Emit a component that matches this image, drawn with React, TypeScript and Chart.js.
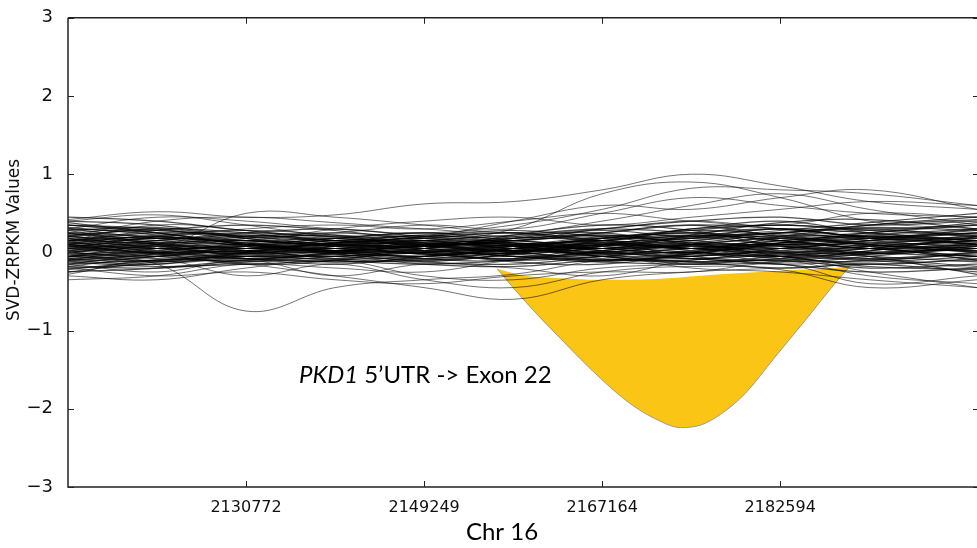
import React, { useEffect, useRef } from "react";
import { Chart, registerables } from "chart.js";

Chart.register(...registerables);

// Sample positions (index along the region) at which every trace is read
const knotX = [0, 10, 20, 30, 40, 50, 60, 70, 80, 90, 102.1];
const xTickPositions = [20, 40, 60, 80];
const xTickLabels = ["2130772", "2149249", "2167164", "2182594"];
const yTicks = [-3, -2, -1, 0, 1, 2, 3];

const denseBand: number[][] = [
  [0.10, 0.05, 0.00, 0.05, 0.08, 0.02, 0.10, 0.05, 0.12, 0.08, 0.05],
  [-0.05, 0.02, 0.08, 0.00, -0.05, 0.03, 0.00, 0.10, 0.05, -0.02, 0.10],
  [0.20, 0.15, 0.05, 0.10, 0.02, 0.08, 0.15, 0.20, 0.10, 0.15, 0.20],
  [-0.15, -0.10, -0.05, -0.08, 0.00, -0.10, -0.05, 0.00, -0.08, -0.12, -0.05],
  [0.05, 0.12, 0.10, 0.02, 0.10, 0.15, 0.05, 0.00, 0.15, 0.20, 0.10],
  [0.30, 0.25, 0.10, 0.05, 0.12, 0.10, 0.20, 0.25, 0.30, 0.20, 0.25],
  [-0.10, -0.02, 0.05, 0.10, 0.05, -0.05, -0.10, -0.05, 0.02, 0.05, -0.10],
  [0.15, 0.20, 0.15, 0.08, -0.02, 0.00, 0.08, 0.15, 0.20, 0.10, 0.00],
  [0.00, -0.08, -0.10, 0.00, 0.08, 0.12, 0.05, -0.02, -0.05, 0.05, 0.15],
  [0.25, 0.10, -0.05, -0.02, 0.05, 0.20, 0.25, 0.10, 0.05, 0.15, 0.30],
  [-0.20, -0.15, -0.08, -0.12, -0.10, -0.05, -0.12, -0.15, -0.10, -0.20, -0.15],
  [0.08, 0.00, 0.02, 0.12, 0.15, 0.05, -0.02, 0.05, 0.10, 0.00, -0.05],
  [0.35, 0.30, 0.15, 0.12, 0.20, 0.25, 0.15, 0.30, 0.35, 0.30, 0.35],
  [-0.05, 0.10, 0.15, 0.05, -0.08, -0.10, 0.02, 0.10, 0.00, -0.10, 0.00],
  [0.12, 0.08, -0.02, -0.05, 0.00, 0.10, 0.12, -0.05, -0.10, 0.02, 0.12],
  [0.02, 0.15, 0.20, 0.15, 0.10, -0.02, 0.10, 0.20, 0.25, 0.30, 0.20],
  [-0.25, -0.20, -0.10, -0.05, -0.15, -0.18, -0.10, -0.12, -0.20, -0.15, -0.25],
  [0.18, 0.05, 0.08, 0.18, 0.20, 0.15, 0.25, 0.35, 0.20, 0.10, 0.05],
  [0.05, -0.05, -0.12, -0.05, 0.02, 0.08, -0.05, -0.10, 0.05, 0.12, 0.08],
  [0.40, 0.35, 0.20, 0.15, 0.10, 0.15, 0.30, 0.40, 0.45, 0.35, 0.40],
  [-0.08, 0.00, 0.12, 0.18, 0.08, 0.02, 0.05, -0.05, 0.12, 0.20, 0.15],
  [0.10, 0.18, 0.12, -0.02, -0.10, -0.02, 0.15, 0.22, 0.15, 0.05, -0.05],
  [-0.12, -0.18, -0.15, -0.10, -0.05, 0.05, 0.00, -0.08, -0.15, -0.25, -0.20],
  [0.22, 0.28, 0.18, 0.08, 0.15, 0.05, 0.10, 0.05, 0.18, 0.25, 0.35],
  [0.00, 0.05, -0.02, 0.08, 0.20, 0.18, 0.22, 0.12, 0.08, -0.02, 0.05],
  [-0.18, -0.05, 0.02, -0.02, -0.12, -0.15, -0.05, 0.05, -0.02, -0.08, -0.18],
  [0.28, 0.12, 0.05, 0.12, 0.05, 0.22, 0.35, 0.28, 0.10, 0.18, 0.28],
  [0.06, 0.20, 0.25, 0.20, 0.12, 0.08, -0.05, 0.00, 0.20, 0.35, 0.45],
  [-0.02, -0.12, -0.05, 0.02, -0.02, -0.08, 0.08, 0.18, 0.30, 0.18, 0.10],
  [0.15, 0.00, -0.08, -0.15, -0.05, 0.05, 0.18, 0.12, -0.05, -0.15, -0.08],
  [0.32, 0.22, 0.08, 0.02, 0.08, 0.12, 0.05, 0.22, 0.38, 0.42, 0.30],
  [-0.10, -0.15, 0.00, 0.12, 0.22, 0.12, -0.02, -0.12, -0.08, 0.02, 0.20],
  [0.12, 0.22, 0.28, 0.22, 0.05, -0.05, 0.00, 0.08, 0.00, 0.08, 0.15],
  [0.00, 0.08, 0.15, 0.10, -0.02, 0.05, 0.18, 0.28, 0.22, 0.08, -0.10],
  [-0.22, -0.10, 0.00, 0.05, 0.00, -0.12, -0.15, -0.02, 0.08, -0.05, -0.28],
  [0.45, 0.40, 0.28, 0.20, 0.25, 0.20, 0.18, 0.30, 0.40, 0.25, 0.15],
  [0.10, -0.02, -0.15, -0.10, 0.05, 0.18, 0.28, 0.20, 0.28, 0.38, 0.50],
  [0.20, 0.12, 0.00, 0.02, 0.12, 0.02, -0.10, -0.02, 0.12, 0.22, 0.10],
  [-0.05, 0.05, 0.02, -0.08, -0.12, -0.02, 0.12, 0.02, -0.12, -0.05, 0.08],
  [0.15, 0.28, 0.35, 0.28, 0.15, 0.08, 0.12, 0.05, 0.05, 0.15, 0.25],
];

const denseBandExtra: number[][] = [
  [0.18, 0.10, 0.05, 0.12, 0.18, 0.10, 0.05, 0.12, 0.22, 0.18, 0.12],
  [-0.08, -0.12, -0.02, 0.05, -0.02, -0.08, 0.02, 0.08, 0.02, -0.05, -0.12],
  [0.25, 0.20, 0.12, 0.05, 0.00, 0.05, 0.12, 0.18, 0.25, 0.32, 0.28],
  [0.02, 0.08, 0.02, -0.05, 0.05, 0.15, 0.20, 0.15, 0.05, 0.10, 0.22],
  [-0.12, -0.05, 0.08, 0.12, 0.10, 0.00, -0.08, -0.12, -0.05, 0.05, 0.02],
  [0.30, 0.18, 0.10, 0.15, 0.22, 0.28, 0.20, 0.10, 0.15, 0.25, 0.38],
  [0.08, 0.15, 0.22, 0.15, 0.05, 0.02, 0.08, 0.20, 0.30, 0.25, 0.15],
  [-0.02, 0.00, -0.08, -0.12, -0.08, 0.00, 0.10, 0.05, -0.02, 0.00, 0.05],
  [0.14, 0.25, 0.20, 0.10, 0.08, 0.12, 0.02, -0.05, 0.05, 0.12, 0.18],
  [-0.18, -0.20, -0.12, -0.02, 0.05, -0.02, -0.10, -0.08, -0.15, -0.10, -0.02],
  [0.22, 0.05, -0.02, 0.05, 0.15, 0.22, 0.30, 0.25, 0.15, 0.05, 0.02],
  [0.05, 0.18, 0.12, 0.02, 0.00, 0.08, 0.15, 0.08, 0.12, 0.22, 0.30],
  [0.35, 0.28, 0.22, 0.18, 0.12, 0.18, 0.25, 0.35, 0.30, 0.20, 0.18],
  [-0.05, -0.10, 0.00, 0.10, 0.12, 0.05, -0.02, 0.02, 0.10, 0.05, -0.05],
  [0.12, 0.05, 0.10, 0.18, 0.25, 0.15, 0.08, 0.00, -0.05, -0.02, 0.08],
  [0.20, 0.30, 0.25, 0.12, 0.02, -0.02, 0.05, 0.12, 0.08, 0.00, 0.12],
  [-0.15, -0.02, 0.05, 0.00, -0.05, 0.02, -0.05, -0.15, -0.12, -0.02, 0.05],
  [0.00, -0.05, 0.05, 0.15, 0.18, 0.25, 0.15, 0.05, 0.12, 0.18, 0.10],
  [0.28, 0.32, 0.18, 0.08, 0.10, 0.05, 0.15, 0.28, 0.35, 0.28, 0.20],
  [0.10, 0.02, -0.05, 0.02, 0.10, 0.08, 0.00, 0.10, 0.18, 0.12, 0.02],
  [-0.25, -0.12, -0.05, -0.10, -0.15, -0.10, -0.02, 0.00, -0.05, -0.18, -0.22],
  [0.16, 0.12, 0.18, 0.22, 0.12, 0.02, 0.10, 0.22, 0.15, 0.05, 0.10],
  [0.04, 0.10, 0.05, 0.00, 0.02, -0.05, -0.12, -0.02, 0.10, 0.18, 0.25],
  [0.38, 0.25, 0.10, 0.02, 0.08, 0.15, 0.22, 0.18, 0.25, 0.35, 0.42],
  [-0.10, 0.05, 0.10, 0.02, -0.05, 0.05, 0.18, 0.25, 0.18, 0.10, 0.00],
  [0.08, -0.02, -0.08, 0.00, 0.08, 0.02, 0.12, 0.05, -0.05, -0.08, 0.00],
  [0.24, 0.18, 0.25, 0.30, 0.20, 0.12, 0.05, 0.10, 0.20, 0.28, 0.22],
  [-0.06, 0.00, 0.02, 0.08, 0.15, 0.10, 0.02, -0.08, -0.02, 0.08, 0.15],
  [0.12, 0.20, 0.10, 0.00, -0.08, 0.00, 0.05, 0.15, 0.25, 0.15, 0.05],
  [0.00, 0.12, 0.20, 0.25, 0.18, 0.10, 0.15, 0.05, 0.00, 0.05, 0.20],
];

const upperOutliers: number[][] = [
  [0.05, 0.05, 0.50, 0.45, 0.35, 0.25, 0.30, 0.40, 0.30, 0.20, 0.15],
  [0.42, 0.52, 0.45, 0.48, 0.62, 0.65, 0.80, 1.00, 0.85, 0.65, 0.55],
  [0.40, 0.48, 0.35, 0.20, 0.15, 0.30, 0.75, 0.90, 0.70, 0.40, 0.30],
  [0.30, 0.45, 0.40, 0.30, 0.25, 0.35, 0.55, 0.82, 0.80, 0.75, 0.60],
  [0.15, 0.35, 0.28, 0.15, 0.20, 0.40, 0.60, 0.55, 0.70, 0.80, 0.55],
  [0.25, 0.30, 0.20, 0.25, 0.35, 0.30, 0.50, 0.70, 0.60, 0.50, 0.45],
  [0.20, 0.40, 0.45, 0.38, 0.30, 0.25, 0.40, 0.60, 0.75, 0.55, 0.35],
  [0.35, 0.25, 0.15, 0.30, 0.40, 0.45, 0.35, 0.45, 0.55, 0.65, 0.60],
  [0.10, 0.20, 0.30, 0.35, 0.30, 0.40, 0.50, 0.40, 0.35, 0.50, 0.45],
];

const lowerOutliers: number[][] = [
  [-0.05, -0.15, -0.75, -0.45, -0.35, -0.28, -0.10, -0.05, 0.00, -0.10, -0.20],
  [-0.30, -0.35, -0.20, -0.10, -0.30, -0.35, -0.20, -0.15, -0.10, -0.30, -0.40],
  [-0.35, -0.30, -0.15, -0.20, -0.25, -0.10, -0.05, -0.20, -0.25, -0.35, -0.45],
  [-0.20, -0.30, -0.25, -0.35, -0.40, -0.30, -0.25, -0.25, -0.15, -0.40, -0.30],
  [-0.15, -0.25, -0.10, -0.30, -0.15, -0.20, -0.30, -0.10, -0.05, -0.25, -0.45],
  [-0.28, -0.10, -0.30, -0.15, -0.35, -0.45, -0.25, -0.18, -0.22, -0.45, -0.35],
  [-0.10, -0.05, -0.15, -0.30, -0.45, -0.60, -0.35, -0.25, -0.20, -0.15, -0.10],
];

// PKD1 5'UTR -> Exon 22 outlier envelope
const pkd1X = [48.2, 51.3, 55.3, 59.8, 63.1, 66.0, 68.8, 71.0, 73.3, 76.1, 79.4, 82.8, 86.2, 87.9];
const pkd1Upper = [-0.21, -0.30, -0.33, -0.35, -0.35, -0.34, -0.32, -0.30, -0.28, -0.26, -0.24, -0.22, -0.20, -0.17];
const pkd1Lower = [-0.21, -0.62, -1.10, -1.61, -1.93, -2.13, -2.24, -2.21, -2.07, -1.80, -1.34, -0.87, -0.39, -0.17];

const BAND_COLOR = "rgba(0,0,0,0.68)";
const OUTLIER_COLOR = "rgba(0,0,0,0.55)";
const YELLOW = "#FBC515";

const framePlugin = {
  id: "framePlugin",
  afterDraw(chart: any) {
    const { ctx, chartArea } = chart;
    const { left, right, top, bottom } = chartArea;
    const xs = chart.scales.x;
    const ys = chart.scales.y;
    ctx.save();
    ctx.strokeStyle = "#222";
    ctx.lineWidth = 1.5;
    ctx.beginPath();
    ctx.moveTo(left, top);
    ctx.lineTo(right + 2, top);
    ctx.moveTo(left, top);
    ctx.lineTo(left, bottom);
    ctx.lineTo(right + 2, bottom);
    ctx.stroke();
    ctx.lineWidth = 1;
    ctx.beginPath();
    yTicks.forEach((v) => {
      const y = Math.round(ys.getPixelForValue(v)) + 0.5;
      ctx.moveTo(left, y);
      ctx.lineTo(left + 6, y);
      ctx.moveTo(right - 4, y);
      ctx.lineTo(right, y);
    });
    xTickPositions.forEach((v) => {
      const x = Math.round(xs.getPixelForValue(v)) + 0.5;
      ctx.moveTo(x, bottom);
      ctx.lineTo(x, bottom - 6);
      ctx.moveTo(x, top);
      ctx.lineTo(x, top + 6);
    });
    ctx.stroke();

    // y axis title
    ctx.fillStyle = "#111";
    ctx.font = '17px "DejaVu Sans"';
    ctx.textAlign = "center";
    ctx.textBaseline = "middle";
    ctx.save();
    ctx.translate(15, 240);
    ctx.rotate(-Math.PI / 2);
    ctx.fillText("SVD-ZRPKM Values", 0, 0);
    ctx.restore();

    // x axis title
    ctx.fillStyle = "#000";
    ctx.font = "24px Lato";
    ctx.textAlign = "center";
    ctx.textBaseline = "alphabetic";
    ctx.fillText("Chr 16", 502, 540);

    // annotation
    ctx.textAlign = "left";
    ctx.font = "italic 24px Lato";
    const italicPart = "PKD1";
    ctx.fillText(italicPart, 299, 383);
    const w = ctx.measureText(italicPart).width;
    ctx.font = "24px Lato";
    ctx.fillText(" 5\u2019UTR -> Exon 22", 299 + w, 383);
    ctx.restore();
  },
};

export default function App() {
  const canvasRef = useRef<HTMLCanvasElement | null>(null);

  useEffect(() => {
    const canvas = canvasRef.current;
    if (!canvas) return;
    const toPoints = (vals: number[], xs: number[]) => vals.map((y, i) => ({ x: xs[i], y }));
    const makeLine = (vals: number[], color: string, width: number) => ({
      data: toPoints(vals, knotX),
      borderColor: color,
      borderWidth: width,
      pointRadius: 0,
      tension: 0.4,
      fill: false,
    });
    const datasets: any[] = [
      ...denseBand.map((v) => makeLine(v, BAND_COLOR, 1.2)),
      ...denseBandExtra.map((v) => makeLine(v, BAND_COLOR, 1.2)),
      ...upperOutliers.map((v) => makeLine(v, OUTLIER_COLOR, 1)),
      ...lowerOutliers.map((v) => makeLine(v, OUTLIER_COLOR, 1)),
      {
        data: toPoints(pkd1Upper, pkd1X),
        borderColor: "rgba(0,0,0,0)",
        borderWidth: 0,
        pointRadius: 0,
        cubicInterpolationMode: "monotone",
        fill: false,
      },
      {
        data: toPoints(pkd1Lower, pkd1X),
        borderColor: "#9a9a9a",
        borderWidth: 1,
        pointRadius: 0,
        cubicInterpolationMode: "monotone",
        backgroundColor: YELLOW,
        fill: "-1",
      },
    ];

    const chart = new Chart(canvas, {
      type: "line",
      data: { datasets },
      options: {
        animation: false,
        responsive: false,
        events: [],
        layout: { padding: { top: 16, right: 0, bottom: 0, left: 0 } },
        plugins: { legend: { display: false }, tooltip: { enabled: false } },
        scales: {
          x: {
            type: "linear",
            min: 0,
            max: 102.1,
            grid: { display: false },
            border: { display: false },
            afterBuildTicks: (s: any) => {
              s.ticks = xTickPositions.map((v) => ({ value: v }));
            },
            afterFit: (s: any) => {
              s.height = 61;
            },
            ticks: {
              autoSkip: false,
              maxRotation: 0,
              padding: 3,
              color: "#111",
              font: { family: "DejaVu Sans", size: 16 },
              callback: (v: any) => {
                const i = xTickPositions.indexOf(Number(v));
                return i >= 0 ? xTickLabels[i] : "";
              },
            },
          },
          y: {
            type: "linear",
            min: -3,
            max: 3,
            grid: { display: false },
            border: { display: false },
            afterBuildTicks: (s: any) => {
              s.ticks = yTicks.map((v) => ({ value: v }));
            },
            afterFit: (s: any) => {
              s.width = 68;
            },
            ticks: {
              padding: 7,
              color: "#111",
              font: { family: "DejaVu Sans", size: 18 },
              callback: (v: any) => (Number(v) < 0 ? "\u2212" + Math.abs(Number(v)) : String(v)),
            },
          },
        },
      },
      plugins: [framePlugin],
    });
    return () => chart.destroy();
  }, []);

  return (
    <div style={{ position: "fixed", left: 0, top: 0, width: 977, height: 548, background: "#fff" }}>
      <canvas ref={canvasRef} width={977} height={548} style={{ display: "block" }} />
    </div>
  );
}
